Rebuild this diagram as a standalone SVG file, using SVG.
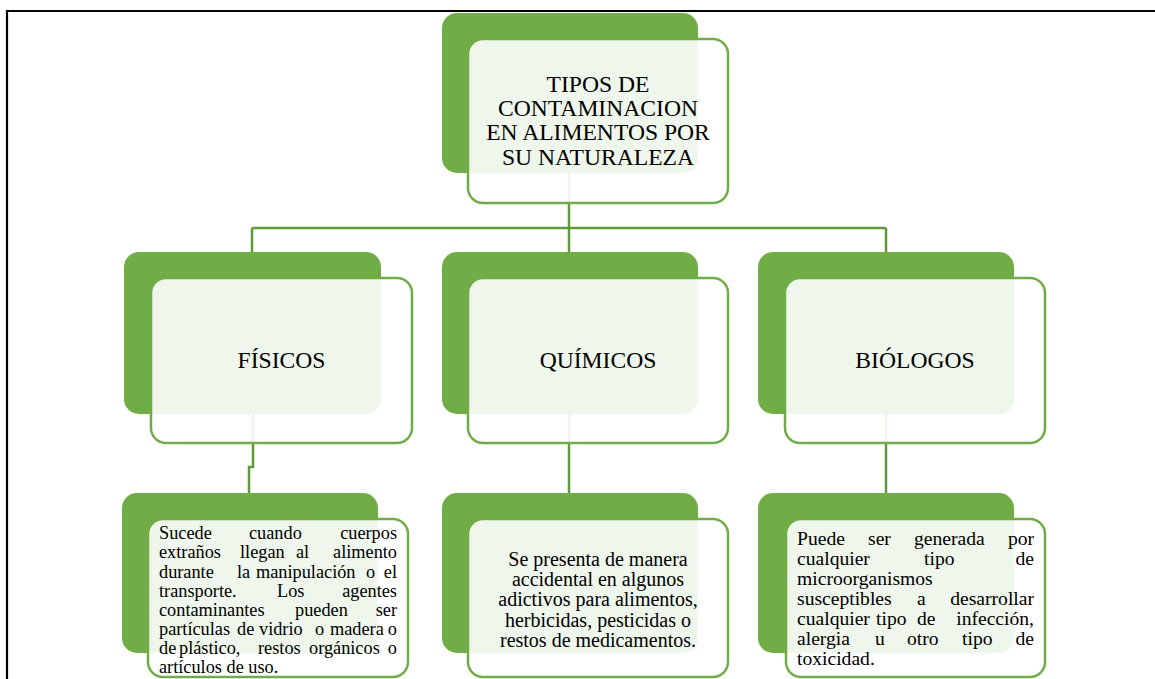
<svg xmlns="http://www.w3.org/2000/svg" width="1155" height="679" viewBox="0 0 1155 679">
<style>
.dark{fill:#70AD47;}
.light{fill:#ffffff;fill-opacity:0.89;stroke:#70AD47;stroke-width:2.5;}
.conn{fill:none;stroke:#5E9A3A;stroke-width:2.5;}
.t{font-family:"Liberation Serif","Times New Roman",serif;fill:#000;}
.title{font-size:23.6px;text-anchor:middle;}
.small{font-size:18.3px;}
.mid{font-size:20px;text-anchor:middle;}
.r{font-size:19.6px;}
.e{text-anchor:end;}
</style>
<rect x="0" y="0" width="1155" height="679" fill="#fff"/>
<path d="M7 679 V11 H1155" fill="none" stroke="#000" stroke-width="2.2"/>
<g id="connectors">
<path class="conn" d="M569 173 V228 M252 228 H886 M252 228 V252 M569 228 V252 M886 228 V252"/>
<path class="conn" d="M253 414 V467 H249 V493"/>
<path class="conn" d="M569 414 V493"/>
<path class="conn" d="M886 414 V493"/>
</g>
<g id="n-top">
<rect class="dark" x="442" y="13" width="256" height="160" rx="15"/>
<rect class="light" x="468" y="39" width="260" height="164" rx="15"/>
<text class="t title" x="598"><tspan x="598" y="92">TIPOS DE</tspan><tspan x="598" y="116">CONTAMINACION</tspan><tspan x="598" y="140">EN ALIMENTOS POR</tspan><tspan x="598" y="165">SU NATURALEZA</tspan></text>
</g>
<g id="n-fisicos">
<rect class="dark" x="124" y="252" width="257" height="162" rx="15"/>
<rect class="light" x="151" y="278" width="261" height="165" rx="15"/>
<text class="t title" x="281.5" y="368">FÍSICOS</text>
</g>
<g id="n-quimicos">
<rect class="dark" x="442" y="252" width="256" height="162" rx="15"/>
<rect class="light" x="468" y="278" width="260" height="165" rx="15"/>
<text class="t title" x="598" y="368">QUÍMICOS</text>
</g>
<g id="n-biologos">
<rect class="dark" x="758" y="252" width="256" height="162" rx="15"/>
<rect class="light" x="785" y="278" width="260" height="165" rx="15"/>
<text class="t title" x="915" y="368">BIÓLOGOS</text>
</g>
<g id="n-fisicos-desc">
<rect class="dark" x="122" y="493" width="256" height="160" rx="15"/>
<rect class="light" x="148" y="519" width="260" height="158" rx="15"/>
<text class="t small" y="539"><tspan x="159">Sucede</tspan><tspan x="249">cuando</tspan><tspan class="e" x="397">cuerpos</tspan></text>
<text class="t small" y="558"><tspan x="159">extraños</tspan><tspan x="240">llegan</tspan><tspan x="296">al</tspan><tspan class="e" x="397">alimento</tspan></text>
<text class="t small" y="578"><tspan x="159">durante</tspan><tspan x="237">la</tspan><tspan x="256">manipulación</tspan><tspan x="366">o</tspan><tspan class="e" x="397">el</tspan></text>
<text class="t small" y="597"><tspan x="159">transporte.</tspan><tspan x="277">Los</tspan><tspan class="e" x="397">agentes</tspan></text>
<text class="t small" y="616"><tspan x="159">contaminantes</tspan><tspan x="295">pueden</tspan><tspan class="e" x="397">ser</tspan></text>
<text class="t small" y="635"><tspan x="159">partículas</tspan><tspan x="237">de</tspan><tspan x="259">vidrio</tspan><tspan x="315">o</tspan><tspan x="330">madera</tspan><tspan class="e" x="397">o</tspan></text>
<text class="t small" y="654"><tspan x="159">de</tspan><tspan x="179">plástico,</tspan><tspan x="258">restos</tspan><tspan x="309">orgánicos</tspan><tspan class="e" x="397">o</tspan></text>
<text class="t small" x="159" y="673">artículos de uso.</text>
</g>
<g id="n-quimicos-desc">
<rect class="dark" x="442" y="493" width="256" height="160" rx="15"/>
<rect class="light" x="468" y="519" width="260" height="158" rx="15"/>
<text class="t mid"><tspan x="598" y="566">Se presenta de manera</tspan><tspan x="598" y="586">accidental en algunos</tspan><tspan x="598" y="606">adictivos para alimentos,</tspan><tspan x="598" y="627">herbicidas, pesticidas o</tspan><tspan x="598" y="647">restos de medicamentos.</tspan></text>
</g>
<g id="n-biologos-desc">
<rect class="dark" x="758" y="493" width="256" height="160" rx="15"/>
<rect class="light" x="786" y="519" width="259" height="158" rx="15"/>
<text class="t r" y="545"><tspan x="797">Puede</tspan><tspan x="868">ser</tspan><tspan x="914">generada</tspan><tspan class="e" x="1034">por</tspan></text>
<text class="t r" y="565"><tspan x="797">cualquier</tspan><tspan x="924">tipo</tspan><tspan class="e" x="1034">de</tspan></text>
<text class="t r" x="797" y="585">microorganismos</text>
<text class="t r" y="605"><tspan x="797">susceptibles</tspan><tspan x="917">a</tspan><tspan class="e" x="1034">desarrollar</tspan></text>
<text class="t r" y="625"><tspan x="797">cualquier</tspan><tspan x="876">tipo</tspan><tspan x="917">de</tspan><tspan class="e" x="1034">infección,</tspan></text>
<text class="t r" y="645"><tspan x="797">alergia</tspan><tspan x="875">u</tspan><tspan x="907">otro</tspan><tspan x="962">tipo</tspan><tspan class="e" x="1034">de</tspan></text>
<text class="t r" x="797" y="665">toxicidad.</text>
</g>
</svg>
